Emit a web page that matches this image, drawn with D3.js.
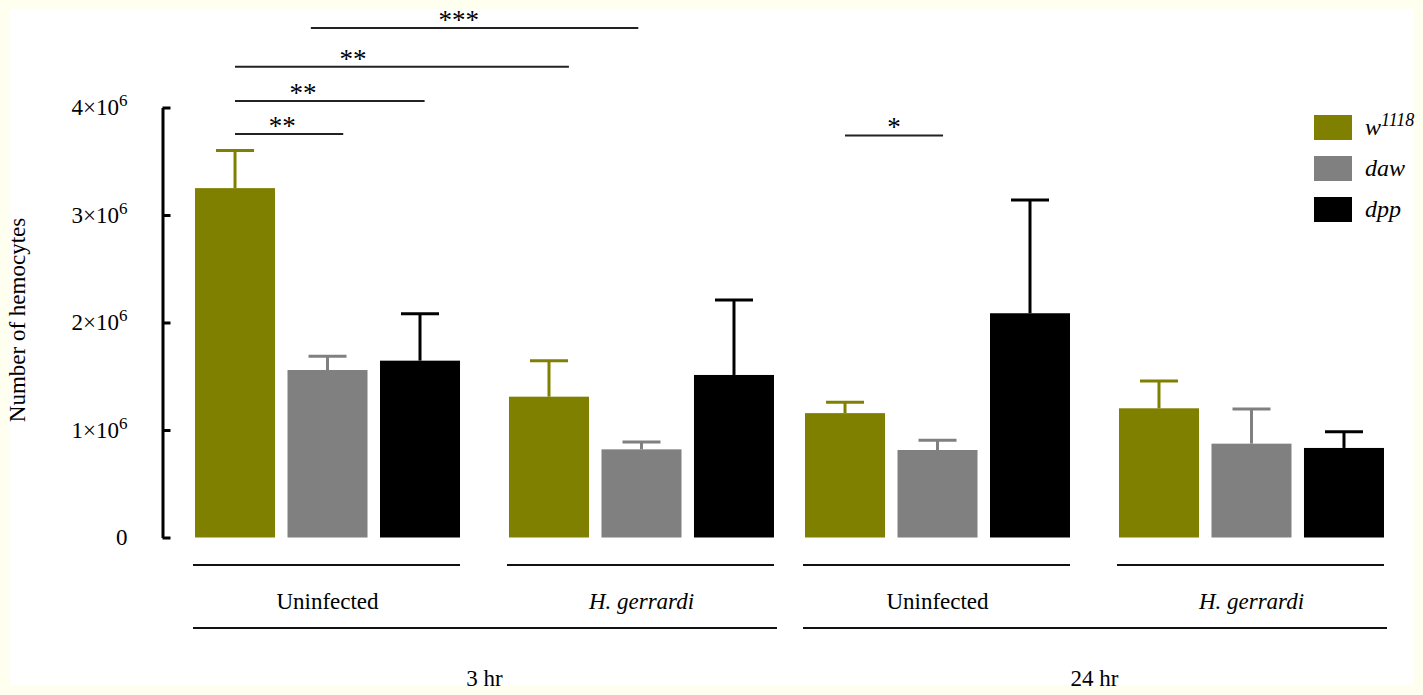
<!DOCTYPE html>
<html>
<head>
<meta charset="utf-8">
<script src="https://cdnjs.cloudflare.com/ajax/libs/d3/7.8.5/d3.min.js"></script>
<style>
	body { margin: 0; background: #fffff0; }
	svg { display: block; }
	text { font-family: "Liberation Serif", "Times New Roman", serif; fill: #000; }
</style>
</head>
<body>
<div id="chart"></div>
<script>

// categories
var times = ["3 hr", "24 hr"];
var infections = ["Uninfected", "H. gerrardi"];
var strains = ["w1118", "daw", "dpp"];
var strainColors = ["#808000", "#808080", "#000000"];

// mean and SEM per strain, order: 3hr-Uninfected, 3hr-H.g, 24hr-Uninfected, 24hr-H.g
var w1118Mean = [3250000, 1310000, 1157000, 1202000];
var w1118Sem  = [350000, 335000, 101000, 254000];
var dawMean   = [1558000, 820000, 814000, 873000];
var dawSem    = [127000, 68000, 90000, 322000];
var dppMean   = [1645000, 1512000, 2086000, 833000];
var dppSem    = [437000, 697000, 1054000, 151000];

var yTicks = [0, 1000000, 2000000, 3000000, 4000000];

// significance brackets: group, start / end / star position in bar units from the group's first bar
var sigGroup  = [0, 0, 0, 0, 2];
var sigFrom   = [0, 0, 0, 0.82, 0];
var sigTo     = [1.17, 2.05, 3.61, 4.36, 1.06];
var sigStarAt = [0.51, 0.735, 1.276, 2.42, 0.53];
var sigLevel  = [3753000, 4060000, 4380000, 4740000, 3740000];
var sigLabel  = ["**", "**", "**", "***", "*"];


var W = 1423, H = 695;

var svg = d3.select("#chart").append("svg")
	.attr("width", W)
	.attr("height", H);

// white plate inside the cream frame
svg.append("rect")
	.attr("x", 10).attr("y", 9)
	.attr("width", 1403).attr("height", 676)
	.attr("fill", "#ffffff");

// scales
var x0 = d3.scaleBand().domain(times).range([179.5, 1399.5]).padding(0);
var x1 = d3.scaleBand().domain(infections).range([0, x0.bandwidth()])
	.paddingInner(0.156).paddingOuter(0.0494);
var x2 = d3.scaleBand().domain(strains).range([0, x1.bandwidth()])
	.paddingInner(0.135).paddingOuter(0);
var y = d3.scaleLinear().domain([0, 4000000]).range([537.5, 107.5]);
var color = d3.scaleOrdinal().domain(strains).range(strainColors);

// flat list of the four groups
var groups = [];
times.forEach(function(t) {
	infections.forEach(function(inf) {
		groups.push({ time: t, infection: inf });
	});
});
function groupX(i) {
	return x0(groups[i].time) + x1(groups[i].infection);
}

var means = { w1118: w1118Mean, daw: dawMean, dpp: dppMean };
var sems = { w1118: w1118Sem, daw: dawSem, dpp: dppSem };

var bars = [];
groups.forEach(function(g, i) {
	strains.forEach(function(s) {
		bars.push({ group: i, strain: s, mean: means[s][i], sem: sems[s][i] });
	});
});

// bars
svg.selectAll(".bar")
	.data(bars)
	.enter().append("rect")
	.attr("class", "bar")
	.attr("x", function(d) { return groupX(d.group) + x2(d.strain); })
	.attr("y", function(d) { return y(d.mean); })
	.attr("width", x2.bandwidth())
	.attr("height", function(d) { return y(0) - y(d.mean); })
	.attr("fill", function(d) { return color(d.strain); });

// error bars (upper only)
var capHalf = 19;
var err = svg.selectAll(".err")
	.data(bars)
	.enter().append("g")
	.attr("class", "err")
	.attr("stroke", function(d) { return color(d.strain); })
	.attr("stroke-width", 3);
err.append("line")
	.attr("x1", function(d) { return groupX(d.group) + x2(d.strain) + x2.bandwidth() / 2; })
	.attr("x2", function(d) { return groupX(d.group) + x2(d.strain) + x2.bandwidth() / 2; })
	.attr("y1", function(d) { return y(d.mean); })
	.attr("y2", function(d) { return y(d.mean + d.sem); });
err.append("line")
	.attr("x1", function(d) { return groupX(d.group) + x2(d.strain) + x2.bandwidth() / 2 - capHalf; })
	.attr("x2", function(d) { return groupX(d.group) + x2(d.strain) + x2.bandwidth() / 2 + capHalf; })
	.attr("y1", function(d) { return y(d.mean + d.sem); })
	.attr("y2", function(d) { return y(d.mean + d.sem); });

// y axis
var yAxis = d3.axisLeft(y)
	.tickValues(yTicks)
	.tickSizeInner(-8)
	.tickSizeOuter(0)
	.tickPadding(35);

var yG = svg.append("g")
	.attr("class", "y-axis")
	.attr("transform", "translate(162.5,0)")
	.call(yAxis);
yG.select(".domain").attr("stroke-width", 3);
yG.selectAll(".tick line").attr("stroke-width", 3);
yG.selectAll(".tick text")
	.attr("font-family", "Liberation Serif, Times New Roman, serif")
	.attr("font-size", 23)
	.each(function(d) {
		var t = d3.select(this).text("");
		if (d === 0) { t.text("0"); return; }
		t.append("tspan").text((d / 1000000) + "\u00d710");
		t.append("tspan").attr("font-size", 17).attr("dy", "-0.55em").text("6");
	});

svg.append("text")
	.attr("transform", "translate(25,320) rotate(-90)")
	.attr("text-anchor", "middle")
	.attr("font-size", 23)
	.text("Number of hemocytes");

// significance brackets
var sig = sigLabel.map(function(l, i) {
	return { group: sigGroup[i], from: sigFrom[i], to: sigTo[i], star: sigStarAt[i], level: sigLevel[i], label: l };
});
function sigX(g, f) {
	return groupX(g) + x2.bandwidth() / 2 + f * x2.step();
}
svg.selectAll(".sig-line")
	.data(sig)
	.enter().append("line")
	.attr("class", "sig-line")
	.attr("x1", function(d) { return sigX(d.group, d.from); })
	.attr("x2", function(d) { return sigX(d.group, d.to); })
	.attr("y1", function(d) { return y(d.level); })
	.attr("y2", function(d) { return y(d.level); })
	.attr("stroke", "#222")
	.attr("stroke-width", 2);
svg.selectAll(".sig-label")
	.data(sig)
	.enter().append("text")
	.attr("class", "sig-label")
	.attr("x", function(d) { return sigX(d.group, d.star); })
	.attr("y", function(d) { return y(d.level) + 1; })
	.attr("text-anchor", "middle")
	.attr("font-size", 27)
	.attr("fill", "#222")
	.text(function(d) { return d.label; });

// group underlines + labels
svg.selectAll(".grp-line")
	.data(groups)
	.enter().append("line")
	.attr("class", "grp-line")
	.attr("x1", function(d, i) { return groupX(i) - 2; })
	.attr("x2", function(d, i) { return groupX(i) + x1.bandwidth(); })
	.attr("y1", 565).attr("y2", 565)
	.attr("stroke", "#111").attr("stroke-width", 2);
svg.selectAll(".grp-label")
	.data(groups)
	.enter().append("text")
	.attr("class", "grp-label")
	.attr("x", function(d, i) { return groupX(i) + x1.bandwidth() / 2; })
	.attr("y", 609)
	.attr("text-anchor", "middle")
	.attr("font-size", 23)
	.attr("font-style", function(d) { return d.infection === "Uninfected" ? "normal" : "italic"; })
	.text(function(d) { return d.infection; });

// time underlines + labels
svg.selectAll(".time-line")
	.data(times)
	.enter().append("line")
	.attr("class", "time-line")
	.attr("x1", function(t) { return x0(t) + x1(infections[0]) - 2; })
	.attr("x2", function(t) { return x0(t) + x1(infections[1]) + x1.bandwidth() + 3; })
	.attr("y1", 628).attr("y2", 628)
	.attr("stroke", "#111").attr("stroke-width", 2);
svg.selectAll(".time-label")
	.data(times)
	.enter().append("text")
	.attr("class", "time-label")
	.attr("x", function(t) { return x0(t) + x0.bandwidth() / 2; })
	.attr("y", 686)
	.attr("text-anchor", "middle")
	.attr("font-size", 23)
	.text(function(t) { return t; });

// legend
var legend = svg.selectAll(".legend")
	.data(strains)
	.enter().append("g")
	.attr("class", "legend")
	.attr("transform", function(d, i) { return "translate(1314," + (115 + i * 41) + ")"; });
legend.append("rect")
	.attr("width", 38).attr("height", 25)
	.attr("fill", function(d) { return color(d); });
var legText = legend.append("text")
	.attr("x", 51).attr("y", 20)
	.attr("font-size", 24)
	.attr("font-style", "italic");
legText.each(function(d) {
	var t = d3.select(this);
	if (d === "w1118") {
		t.append("tspan").text("w");
		t.append("tspan").attr("font-size", 18).attr("dy", "-0.5em").text("1118");
	} else {
		t.text(d);
	}
});

</script>
</body>
</html>
